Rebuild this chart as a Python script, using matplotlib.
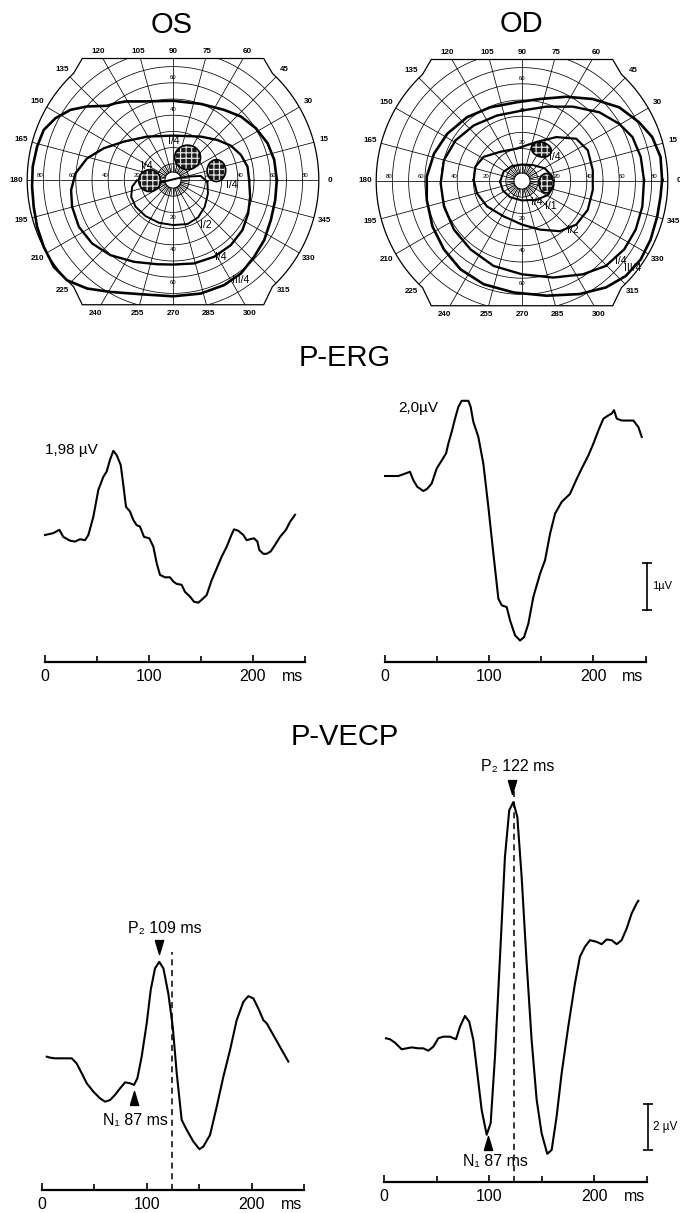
import numpy as np
import matplotlib
matplotlib.use("Agg")
import matplotlib.pyplot as plt
from matplotlib.patches import Polygon, Ellipse
from matplotlib.path import Path

plt.rcParams["font.family"] = ["Liberation Sans", "DejaVu Sans"]
plt.rcParams["hatch.linewidth"] = 0.9

W, H = 680, 1213
DEG = 1.62  # px per degree of visual field

# --- Goldmann isopters, x/y in degrees (OS = left eye, OD = right eye) ---
os_iii4_x = [64.1, 62.5, 58.4, 51.1, 41.9, 31.5, 17.1, 0.0, -17.9, -29.3, -35.5, -40.6, -53.0, -63.3,
             -72.6, -79.8, -83.9, -86.6, -87.0, -86.0, -83.9, -79.8, -73.6, -65.4, -53.0, -38.6, -20.0,
             0.0, 17.1, 31.5, 41.9, 50.1, 56.3, 60.4, 63.1]
os_iii4_y = [0.0, 12.4, 22.7, 32.0, 39.2, 43.3, 47.0, 48.9, 48.5, 48.5, 47.4, 45.8, 45.4, 43.3,
             38.1, 30.9, 20.6, 8.2, -4.1, -16.5, -28.9, -41.2, -53.6, -61.9, -67.0, -69.1, -70.5,
             -71.8, -70.1, -64.9, -57.7, -47.4, -37.1, -24.7, -12.4]
os_i4_x = [47.0, 46.0, 41.9, 35.7, 27.4, 17.1, 0.0, -15.9, -30.3, -42.7, -53.0, -60.2, -62.9,
           -62.3, -58.1, -49.9, -38.6, -24.1, -9.7, 0.0, 13.0, 25.4, 35.7, 42.9, 46.4, 47.6]
os_i4_y = [0.0, 8.2, 15.5, 21.2, 24.7, 26.8, 27.4, 26.8, 23.7, 19.6, 13.4, 4.1, -6.2,
           -16.5, -28.9, -39.2, -46.4, -50.5, -52.0, -52.2, -51.5, -47.4, -40.2, -30.9, -20.6, -10.3]
os_i2_x = [21.2, 17.1, 8.9, 2.7, -5.6, -13.8, -22.1, -25.2, -25.8, -23.1, -16.9, -8.7, 0.0,
           8.9, 15.5, 19.6, 21.6]
os_i2_y = [-1.0, 2.5, 2.1, 1.0, -1.0, -2.5, 0.0, -4.1, -10.3, -16.5, -22.3, -26.4, -27.8,
           -27.2, -23.1, -16.5, -8.2]

od_iii4_x = [86.5, 85.5, 80.4, 72.2, 60.0, 43.7, 27.3, 11.0, -3.3, -19.6, -33.9, -46.1, -54.3, -58.8,
             -58.8, -55.3, -48.2, -38.0, -23.7, -5.3, 15.1, 35.5, 51.8, 64.1, 73.3, 79.4, 83.5, 85.5]
od_iii4_y = [0.6, 14.9, 27.1, 36.3, 45.5, 50.6, 52.0, 50.6, 48.6, 45.5, 39.4, 29.2, 16.9, 2.7,
             -11.6, -28.0, -42.2, -54.5, -63.7, -68.8, -70.8, -69.8, -65.7, -58.6, -48.4, -36.1, -21.8, -9.6]
od_i4_x = [75.3, 73.3, 68.2, 60.0, 47.8, 31.4, 15.1, 0.0, -15.5, -29.8, -41.0, -48.2, -50.2,
           -48.2, -42.0, -31.8, -17.6, 0.0, 19.2, 37.6, 51.8, 63.1, 70.2, 74.3]
od_i4_y = [0.6, 14.9, 27.1, 35.3, 42.4, 45.9, 45.9, 43.5, 40.4, 34.3, 25.1, 12.9, -1.4,
           -15.7, -30.0, -42.2, -52.4, -57.6, -59.6, -57.6, -52.4, -42.2, -30.0, -15.7]
od_i2_x = [-29.8, -28.8, -23.7, -13.5, -3.3, 9.0, 21.2, 33.5, 40.6, 43.7, 43.7, 40.6, 33.5,
           23.3, 11.0, 0.0, -11.4, -21.6, -27.8]
od_i2_y = [0.6, 8.8, 14.9, 18.0, 20.0, 24.1, 27.1, 26.1, 19.0, 6.7, -5.5, -17.8, -26.9,
           -31.0, -30.0, -26.9, -21.8, -15.7, -7.6]
od_i1_x = [-13.5, -11.4, -6.3, 0.0, 6.9, 14.1, 18.8, 19.2, 16.1, 9.0, 0.0, -7.3, -11.8]
od_i1_y = [-0.4, 5.7, 9.2, 10.2, 9.8, 7.8, 2.7, -3.5, -8.6, -11.6, -12.0, -10.0, -5.9]

# scotomas: centre x, centre y, width, height, tilt (deg)
os_scot_x = [9.0, 26.8, -14.4]
os_scot_y = [14.0, 5.8, -0.4]
os_scot_w = [16.0, 11.5, 13.5]
os_scot_h = [15.0, 13.5, 13.5]
os_scot_a = [0, 0, 0]
od_scot_x = [12.0, 14.9]
od_scot_y = [19.4, -1.4]
od_scot_w = [12.5, 8.8]
od_scot_h = [9.0, 12.0]
od_scot_a = [-15, 0]

# isopter labels
os_lab_txt = ["I/4", "I/4", "I/4", "I/2", "I/4", "III/4"]
os_lab_x = [0.2, -15.9, 36.0, 20.2, 29.5, 41.9]
os_lab_y = [24.3, 8.7, -3.1, -27.8, -47.4, -61.9]
od_lab_txt = ["I/4", "I/4", "I/1", "I/2", "I/4", "III/4"]
od_lab_x = [20.2, 9.0, 18.0, 31.4, 61.0, 68.5]
od_lab_y = [14.9, -13.0, -15.5, -30.0, -49.4, -54.0]

# eccentricity labels shown on the upper vertical meridian
os_top_ecc = [40, 60]
od_top_ecc = [20, 40, 60]

# --- pattern ERG (ms, µV) ---
erg_os_t = [0, 8.0, 13.8, 17.6, 24.0, 28.8, 33.7, 38.5, 41.7, 46.5, 51.3, 56.1, 59.3, 62.5, 65.7,
            68.9, 72.8, 74.7, 77.9, 81.7, 84.9, 88.1, 91.3, 95.2, 100.3, 104.2, 107.4, 110.6, 115.4,
            120.2, 123.4, 126.6, 131.4, 134.6, 139.4, 143.3, 147.4, 150.6, 155.4, 160.3, 165.1,
            169.9, 174.7, 178.5, 181.7, 185.9, 190.7, 193.9, 197.1, 201.0, 204.2, 206.1, 209.9,
            213.1, 217.0, 221.2, 226.0, 231.7, 235.6, 240.4]
erg_os_uv = [0, 0.04, 0.11, -0.04, -0.12, -0.14, -0.09, -0.11, 0, 0.39, 0.96, 1.24, 1.35, 1.60, 1.79,
             1.70, 1.49, 1.17, 0.60, 0.50, 0.32, 0.21, 0.18, -0.04, -0.07, -0.25, -0.60, -0.85, -0.90,
             -0.90, -0.99, -1.04, -1.06, -1.21, -1.31, -1.42, -1.44, -1.38, -1.28, -0.96, -0.71,
             -0.46, -0.25, -0.04, 0.12, 0.09, 0, -0.11, -0.09, -0.07, -0.14, -0.32, -0.40,
             -0.40, -0.35, -0.21, -0.04, 0.11, 0.28, 0.43]
erg_od_t = [0, 12.8, 19.2, 24, 27.2, 31.0, 36.8, 40.6, 44.8, 49.6, 54.4, 58.6, 60.8, 64.0, 67.2,
            70.4, 73.6, 80, 82.2, 84.8, 89.6, 94.4, 99.2, 104, 108.8, 112, 116.8, 120, 124.8, 129.6,
            133.4, 137.6, 142.4, 148.8, 153.6, 158.4, 163.2, 169.6, 177.6, 184, 188.8, 195.2, 200,
            204.8, 209.6, 214.4, 217.6, 219.8, 222.4, 227.2, 232, 238.4, 243.2, 246.4]
erg_od_uv = [0, 0, 0.05, 0.09, -0.09, -0.23, -0.32, -0.27, -0.16, 0.16, 0.33, 0.48, 0.69, 0.94, 1.22,
             1.47, 1.60, 1.60, 1.47, 1.15, 0.83, 0.26, -0.66, -1.65, -2.61, -2.75, -2.79, -3.07, -3.39,
             -3.50, -3.43, -3.14, -2.57, -2.08, -1.79, -1.23, -0.80, -0.55, -0.38, -0.06, 0.16, 0.44,
             0.69, 0.97, 1.22, 1.29, 1.33, 1.40, 1.22, 1.18, 1.18, 1.18, 1.04, 0.83]

# --- pattern VECP (ms, µV) ---
vecp_os_t = [4.8, 7.9, 12.7, 28.6, 33.3, 38.1, 42.9, 49.2, 55.6, 60.3, 65.1, 69.8, 74.6, 79.4, 84.1,
             87.9, 91.1, 95.2, 100, 103.8, 107.9, 112, 115.9, 120.6, 124.8, 128.6, 133.3, 138.1,
             144.4, 150.2, 153.9, 160.3, 166.7, 173, 179.4, 185.7, 192.1, 196.8, 201.6, 206.3,
             211.1, 214.3, 220.6, 228.6, 234.9]
vecp_os_uv = [0, -0.04, -0.07, -0.07, -0.29, -0.71, -1.14, -1.50, -1.79, -1.93, -1.86, -1.64, -1.36,
              -1.10, -1.14, -1.21, -0.93, 0, 1.43, 2.86, 3.79, 4.07, 3.79, 2.71, 1.29, -0.71, -2.71,
              -3.14, -3.64, -3.97, -3.86, -3.36, -2.14, -0.86, 0.29, 1.57, 2.36, 2.60, 2.50, 2.07,
              1.57, 1.43, 0.93, 0.29, -0.21]
vecp_od_t = [1.6, 5.4, 10.2, 16.5, 21.3, 26, 32.4, 37.1, 41.9, 46.7, 51.4, 56.2, 62.5, 68.3, 72.1,
             76.8, 80.9, 84.8, 88.6, 92.7, 97.5, 101.3, 105.4, 110.2, 114.9, 119, 122.9, 126.7,
             130.8, 135.6, 140.3, 145.1, 149.8, 155.2, 159.4, 164.1, 168.9, 175.2, 181.6, 186.3,
             191.1, 195.9, 202.2, 207, 211.7, 216.5, 221.3, 226, 230.8, 235.6, 240.3, 241.9]
vecp_od_uv = [0, -0.04, -0.19, -0.47, -0.43, -0.39, -0.43, -0.43, -0.53, -0.36, 0, 0.07, 0.07, -0.04,
              0.50, 0.96, 0.71, -0.07, -1.50, -3.07, -4.14, -3.64, -0.79, 3.50, 7.79, 9.79, 10.14,
              9.50, 6.93, 3.21, -0.07, -2.64, -4.07, -4.96, -4.79, -3.36, -1.50, 0.50, 2.36, 3.50,
              3.93, 4.21, 4.14, 4.04, 4.24, 4.21, 4.04, 4.21, 4.71, 5.36, 5.79, 5.90]

# peak markers [ms, µV] and the dashed reference latency (ms, top µV)
os_p2_mark = [112.0, 4.72]
os_n1_mark = [88.2, -1.79]
od_p2_mark = [121.3, 10.8]
od_n1_mark = [98.5, -4.5]
os_ref_line = [124.0, 4.5]
od_ref_line = [123.5, 10.6]

fig = plt.figure(figsize=(W / 100, H / 100), dpi=100)


def px_axes(left, top, right, bottom):
    return fig.add_axes([left / W, 1 - bottom / H, (right - left) / W, (bottom - top) / H])


def draw_field(ax, isopters, scot, labels, top_ecc):
    top_y, bot_y, cx = 75, -77, 56
    ar = np.radians(np.linspace(47, -47, 50))
    al = np.radians(np.linspace(227, 133, 50))
    pts = ([(cx, top_y)] + list(zip(90 * np.cos(ar), 90 * np.sin(ar))) + [(cx, bot_y), (-cx, bot_y)]
           + list(zip(90 * np.cos(al), 90 * np.sin(al))) + [(-cx, top_y)])
    frame = Polygon(pts, closed=True, fill=False, ec="k", lw=0.9, zorder=2)
    ax.add_patch(frame)
    fpath = Path(np.array(pts))

    th = np.linspace(0, 2 * np.pi, 361)
    for r in range(10, 90, 10):
        ln, = ax.plot(r * np.cos(th), r * np.sin(th), color="k", lw=0.55, zorder=1)
        ln.set_clip_path(frame)
    ax.plot(5 * np.cos(th), 5 * np.sin(th), color="k", lw=0.6, zorder=1)
    for m in np.radians(np.arange(0, 360, 15)):
        ln, = ax.plot([5 * np.cos(m), 110 * np.cos(m)], [5 * np.sin(m), 110 * np.sin(m)],
                      color="k", lw=0.55, zorder=1)
        ln.set_clip_path(frame)
    for m in np.radians(np.arange(0, 360, 7.5)):
        ax.plot([5 * np.cos(m), 10 * np.cos(m)], [5 * np.sin(m), 10 * np.sin(m)],
                color="k", lw=0.4, zorder=1)

    # meridian labels
    rs = np.arange(5, 100, 0.2)
    for deg in range(0, 360, 15):
        m = np.radians(deg)
        c, s = np.cos(m), np.sin(m)
        inside = fpath.contains_points(np.c_[rs * c, rs * s])
        r_end = rs[inside].max()
        y_end = r_end * s
        if abs(y_end - top_y) < 0.8:
            ly = top_y + 4.5
            lx = ly * c / s
        elif abs(y_end - bot_y) < 0.8:
            ly = bot_y - 5.5
            lx = ly * c / s
        else:
            lx, ly = (r_end + 7) * c, (r_end + 7) * s
        ax.text(lx, ly, str(deg), fontsize=5.8, ha="center", va="center", fontweight="bold")

    # eccentricity labels
    for r in (20, 40, 60, 80):
        ax.text(-(r + 2), 1.0, str(r), fontsize=4.3, ha="center", va="bottom")
        ax.text(r + 1.5, 1.0, str(r), fontsize=4.3, ha="center", va="bottom")
    for r in top_ecc:
        ax.text(0, r + 3.5, str(r), fontsize=4.3, ha="center", va="center")
    for r in (20, 40, 60):
        ax.text(0, -(r + 3), str(r), fontsize=4.3, ha="center", va="center")

    for xs, ys, lw in isopters:
        ax.plot(np.r_[xs, xs[0]], np.r_[ys, ys[0]], color="k", lw=lw, zorder=3,
                solid_joinstyle="round")
    for x, y, w, h, a in zip(*scot):
        ax.add_patch(Ellipse((x, y), w, h, angle=a, fc="#1a1a1a", ec="#e0e0e0", hatch="+++",
                             lw=0, zorder=4))
        ax.add_patch(Ellipse((x, y), w, h, angle=a, fill=False, ec="k", lw=1.2, zorder=5))
    for t, x, y in zip(*labels):
        ax.text(x, y, t, fontsize=7.5, ha="center", va="center", zorder=6)


def field_axes(cx, cy, left, right, top=35, bottom=325):
    ax = px_axes(left, top, right, bottom)
    ax.set_xlim((left - cx) / DEG, (right - cx) / DEG)
    ax.set_ylim((cy - bottom) / DEG, (cy - top) / DEG)
    ax.axis("off")
    return ax


ax_os = field_axes(173, 180, 0, 345)
draw_field(ax_os,
           [(os_iii4_x, os_iii4_y, 1.9), (os_i4_x, os_i4_y, 1.7), (os_i2_x, os_i2_y, 1.4)],
           (os_scot_x, os_scot_y, os_scot_w, os_scot_h, os_scot_a),
           (os_lab_txt, os_lab_x, os_lab_y), os_top_ecc)
ax_od = field_axes(522, 181, 345, 680)
draw_field(ax_od,
           [(od_iii4_x, od_iii4_y, 1.9), (od_i4_x, od_i4_y, 1.7), (od_i2_x, od_i2_y, 1.6),
            (od_i1_x, od_i1_y, 1.5)],
           (od_scot_x, od_scot_y, od_scot_w, od_scot_h, od_scot_a),
           (od_lab_txt, od_lab_x, od_lab_y), od_top_ecc)


def trace_axes(x0, ms_px, y0, uv_px, y_axis, y_top):
    ax = px_axes(x0, y_top, x0 + 250 * ms_px, y_axis)
    ax.set_xlim(0, 250)
    ax.set_ylim((y0 - y_axis) / uv_px, (y0 - y_top) / uv_px)
    for s in ("top", "right", "left"):
        ax.spines[s].set_visible(False)
    ax.spines["bottom"].set_linewidth(1.6)
    ax.set_yticks([])
    ax.set_xticks([0, 100, 200])
    ax.set_xticks([50, 150, 250], minor=True)
    ax.tick_params(axis="x", which="both", direction="in", width=1.2, labelsize=11.5, pad=5)
    ax.tick_params(axis="x", which="major", length=5)
    ax.tick_params(axis="x", which="minor", length=4)
    ax.annotate("ms", xy=(238, 0), xycoords=("data", "axes fraction"), xytext=(0, -5),
                textcoords="offset points", ha="center", va="top", fontsize=11.5)
    ax.patch.set_alpha(0)
    return ax


tri_down = [(-0.3, 0.5), (0.3, 0.5), (0, -0.5), (-0.3, 0.5)]
tri_up = [(-0.3, -0.5), (0.3, -0.5), (0, 0.5), (-0.3, -0.5)]

# P-ERG
a1 = trace_axes(45, 1.04, 535, 47, 662, 380)
a1.plot(erg_os_t, erg_os_uv, color="k", lw=1.5, clip_on=False)
a1.text(25, 1.81, "1,98 µV", fontsize=11, ha="center", va="center")

a2 = trace_axes(385, 1.042, 476, 47, 662, 380)
a2.plot(erg_od_t, erg_od_uv, color="k", lw=1.5, clip_on=False)
a2.text(31.7, 1.45, "2,0µV", fontsize=11, ha="center", va="center")
a2.plot([251, 251], [-1.85, -2.85], color="k", lw=1.2, marker="_", ms=7, mew=1.2, clip_on=False)
a2.text(256, -2.35, "1µV", fontsize=8, ha="left", va="center")

# P-VECP
a3 = trace_axes(41.7, 1.05, 1056.7, 23.3, 1190, 760)
a3.plot(vecp_os_t, vecp_os_uv, color="k", lw=1.5, clip_on=False)
a3.vlines(os_ref_line[0], a3.get_ylim()[0], os_ref_line[1], colors="k", lw=1.1,
          linestyles=(0, (4, 3)))
a3.plot(*os_p2_mark, marker=tri_down, ms=10, color="k", clip_on=False)
a3.plot(*os_n1_mark, marker=tri_up, ms=10, color="k", clip_on=False)
a3.text(117.4, 5.52, "P₂ 109 ms", fontsize=11.5, ha="center", va="center")
a3.text(88.9, -2.72, "N₁ 87 ms", fontsize=11.5, ha="center", va="center")

a4 = trace_axes(384.3, 1.05, 1038.3, 23.3, 1182, 750)
a4.plot(vecp_od_t, vecp_od_uv, color="k", lw=1.5, clip_on=False)
a4.vlines(od_ref_line[0], a4.get_ylim()[0], od_ref_line[1], colors="k", lw=1.1,
          linestyles=(0, (4, 3)))
a4.plot(*od_p2_mark, marker=tri_down, ms=10, color="k", clip_on=False)
a4.plot(*od_n1_mark, marker=tri_up, ms=10, color="k", clip_on=False)
a4.text(127.3, 11.66, "P₂ 122 ms", fontsize=11.5, ha="center", va="center")
a4.text(105.4, -5.3, "N₁ 87 ms", fontsize=11.5, ha="center", va="center")
a4.plot([250.9, 250.9], [-2.8, -4.8], color="k", lw=1.2, marker="_", ms=7, mew=1.2, clip_on=False)
a4.text(256, -3.8, "2 µV", fontsize=8.5, ha="left", va="center")

# titles
fig.text(172 / W, 1 - 25 / H, "OS", fontsize=21, ha="center", va="center")
fig.text(521 / W, 1 - 24 / H, "OD", fontsize=21, ha="center", va="center")
fig.text(345 / W, 1 - 358 / H, "P-ERG", fontsize=21, ha="center", va="center")
fig.text(345 / W, 1 - 737 / H, "P-VECP", fontsize=21, ha="center", va="center")

fig.savefig("out.png", dpi=100)
